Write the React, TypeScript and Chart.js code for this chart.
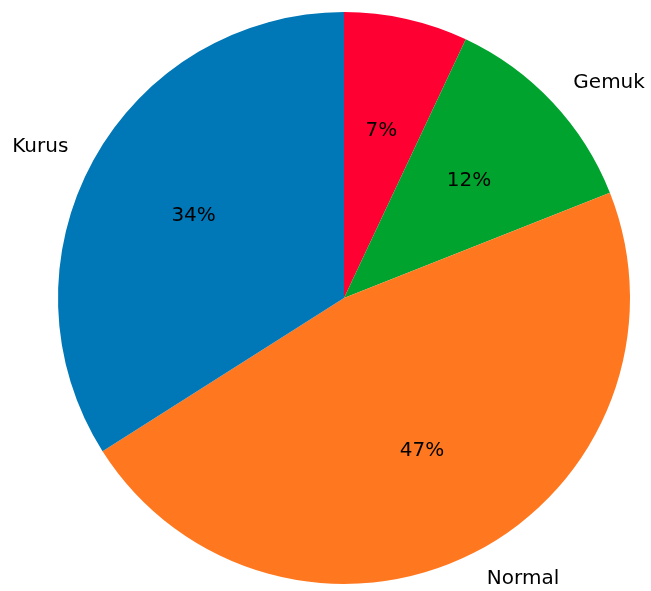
import React, { useEffect, useRef } from "react";
import { Chart, registerables } from "chart.js";

Chart.register(...registerables);

// Clockwise from the top (Chart.js direction)
const categories = ["Obesitas", "Gemuk", "Normal", "Kurus"];
const values = [7, 12, 47, 34];
const colors = ["#FF0033", "#00A32E", "#FF781F", "#0077B6"];

const labelPlugin = {
  id: "pieLabels",
  afterDatasetsDraw(chart: any) {
    const ctx = chart.ctx;
    const meta = chart.getDatasetMeta(0);
    const total = values.reduce((a, b) => a + b, 0);
    ctx.save();
    ctx.font = "20px 'DejaVu Sans'";
    ctx.fillStyle = "#000";
    meta.data.forEach((arc: any, i: number) => {
      const { x, y, startAngle, endAngle, outerRadius } = arc.getProps(
        ["x", "y", "startAngle", "endAngle", "outerRadius"],
        true
      );
      const mid = (startAngle + endAngle) / 2;
      const cx = Math.cos(mid);
      const cy = Math.sin(mid);
      // percentage inside
      const pct = Math.round((values[i] / total) * 100) + "%";
      ctx.textAlign = "center";
      ctx.textBaseline = "middle";
      ctx.fillText(pct, x + cx * outerRadius * 0.6, y + cy * outerRadius * 0.6);
      // category outside
      ctx.textAlign = cx >= 0 ? "left" : "right";
      ctx.fillText(categories[i], x + cx * outerRadius * 1.1, y + cy * outerRadius * 1.1);
    });
    ctx.restore();
  },
};

export default function App() {
  const ref = useRef<HTMLCanvasElement>(null);
  useEffect(() => {
    if (!ref.current) return;
    const chart = new Chart(ref.current, {
      type: "pie",
      data: {
        labels: categories,
        datasets: [
          {
            data: values,
            backgroundColor: colors,
            borderWidth: 0,
          },
        ],
      },
      options: {
        responsive: false,
        animation: false,
        devicePixelRatio: 1,
        layout: { padding: { left: 58, right: 21, top: 12, bottom: 7 } },
        plugins: {
          legend: { display: false },
          tooltip: { enabled: false },
        },
      },
      plugins: [labelPlugin],
    });
    return () => chart.destroy();
  }, []);
  return (
    <div style={{ position: "fixed", left: 0, top: 0, width: 651, height: 591, background: "#fff" }}>
      <canvas ref={ref} width={651} height={591} />
    </div>
  );
}
